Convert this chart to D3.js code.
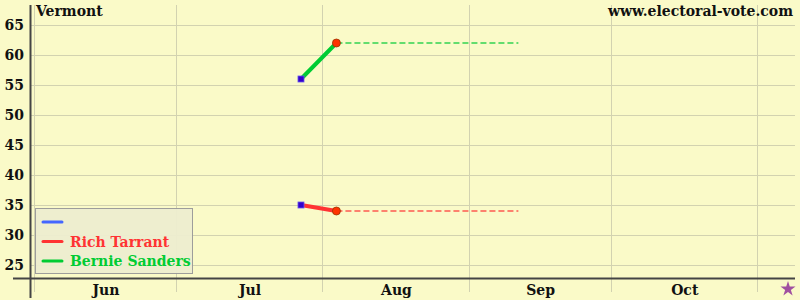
<!DOCTYPE html>
<html><head><meta charset="utf-8">
<script src="https://cdn.jsdelivr.net/npm/d3@7"></script>
<style>html,body{margin:0;padding:0;background:#fafac8;}svg{display:block;}</style>
</head><body>
<svg id="c" width="800" height="300"></svg>
<script>
const title = "Vermont";
const site = "www.electoral-vote.com";
const monthStarts = ["2006-06-01","2006-07-01","2006-08-01","2006-09-01","2006-10-01","2006-11-01"];
const monthLabels = ["Jun","Jul","Aug","Sep","Oct"];
const yTicks = [25,30,35,40,45,50,55,60,65];
const seriesNames = ["", "Rich Tarrant", "Bernie Sanders"];
const seriesColors = ["#4466ff", "#ff3333", "#00cc33"];
const pollDates = ["2006-07-27T12:00","2006-08-04T00:00"];
const tarrant = [35, 34];
const sanders = [56, 62];
const projEnd = "2006-09-11T12:00";

const parse = d3.isoParse;
const svg = d3.select("#c");
const W = 800, H = 300;
const x = d3.scaleTime().domain([parse("2006-06-01T00:00"), parse("2006-11-01T00:00")]).range([34, 757]);
const y = d3.scaleLinear().domain([25, 65]).range([265, 25]);

svg.append("rect").attr("width", W).attr("height", H).attr("fill", "#fafac8");

// gridlines
const grid = svg.append("g").attr("stroke", "#d2d2b0").attr("stroke-width", 1);
yTicks.forEach(v => grid.append("line").attr("x1", 30).attr("x2", 795)
  .attr("y1", Math.round(y(v)) + 0.5).attr("y2", Math.round(y(v)) + 0.5));
monthStarts.forEach(d => grid.append("line").attr("x1", Math.round(x(parse(d + "T00:00"))) + 0.5).attr("x2", Math.round(x(parse(d + "T00:00"))) + 0.5)
  .attr("y1", 5).attr("y2", 292));

// axes lines
svg.append("line").attr("x1", 13).attr("x2", 795).attr("y1", 278.5).attr("y2", 278.5).attr("stroke", "#444").attr("stroke-width", 2);
svg.append("line").attr("x1", 30.5).attr("x2", 30.5).attr("y1", 5).attr("y2", 298).attr("stroke", "#444").attr("stroke-width", 2);

const font = "'DejaVu Serif', serif";
// y labels
svg.append("g").selectAll("text").data(yTicks).join("text")
  .attr("x", 24).attr("y", d => y(d) + 5).attr("text-anchor", "end")
  .attr("font-family", font).attr("font-weight", "bold").attr("font-size", 14).attr("fill", "#111")
  .text(d => d);
// x labels
svg.append("g").selectAll("text").data(monthLabels).join("text")
  .attr("x", (d, i) => (x(parse(monthStarts[i] + "T00:00")) + x(parse(monthStarts[i + 1] + "T00:00"))) / 2 + 1)
  .attr("y", 295).attr("text-anchor", "middle")
  .attr("font-family", font).attr("font-weight", "bold").attr("font-size", 14).attr("fill", "#111")
  .text(d => d);

// titles
svg.append("text").attr("x", 36).attr("y", 16).attr("font-family", font).attr("font-weight", "bold")
  .attr("font-size", 14).attr("fill", "#111").text(title);
svg.append("text").attr("x", 793).attr("y", 16).attr("text-anchor", "end").attr("font-family", font).attr("font-weight", "bold")
  .attr("font-size", 14).attr("fill", "#111").text(site);

// star
const star = d3.symbol().type(d3.symbolStar).size(70);
svg.append("path").attr("d", star()).attr("transform", "translate(788,289)").attr("fill", "#a050a0");

// series
function drawSeries(vals, color) {
  const pts = pollDates.map((d, i) => [x(parse(d)), y(vals[i])]);
  svg.append("path").attr("d", d3.line()(pts)).attr("fill", "none").attr("stroke", color).attr("stroke-width", 4).attr("stroke-linecap", "round");
  const last = pts[pts.length - 1];
  svg.append("line").attr("x1", last[0]).attr("x2", x(parse(projEnd))).attr("y1", last[1]).attr("y2", last[1])
    .attr("stroke", color).attr("stroke-width", 1.3).attr("stroke-dasharray", "6,3").attr("opacity", 0.8);
  svg.append("rect").attr("x", pts[0][0] - 3).attr("y", pts[0][1] - 3).attr("width", 6).attr("height", 6)
    .attr("fill", "#3300cc").attr("stroke", "#6655ee").attr("stroke-width", 0.8);
  svg.append("circle").attr("cx", last[0]).attr("cy", last[1]).attr("r", 4)
    .attr("fill", "#ff3300").attr("stroke", "#993300").attr("stroke-width", 0.8);
}
drawSeries(tarrant, seriesColors[1]);
drawSeries(sanders, seriesColors[2]);

// legend
const lg = svg.append("g");
lg.append("rect").attr("x", 35.5).attr("y", 208.5).attr("width", 157).attr("height", 65)
  .attr("fill", "#eeeed0").attr("stroke", "#999").attr("stroke-width", 1).attr("opacity", 0.95);
seriesNames.forEach((n, i) => {
  const yy = 222 + i * 19.5;
  lg.append("line").attr("x1", 43).attr("x2", 62).attr("y1", yy).attr("y2", yy)
    .attr("stroke", seriesColors[i]).attr("stroke-width", 3).attr("stroke-linecap", "round");
  lg.append("text").attr("x", 70).attr("y", yy + 5).attr("font-family", font).attr("font-weight", "bold").attr("font-size", 14)
    .attr("fill", seriesColors[i]).text(n);
});
</script>
</body></html>
